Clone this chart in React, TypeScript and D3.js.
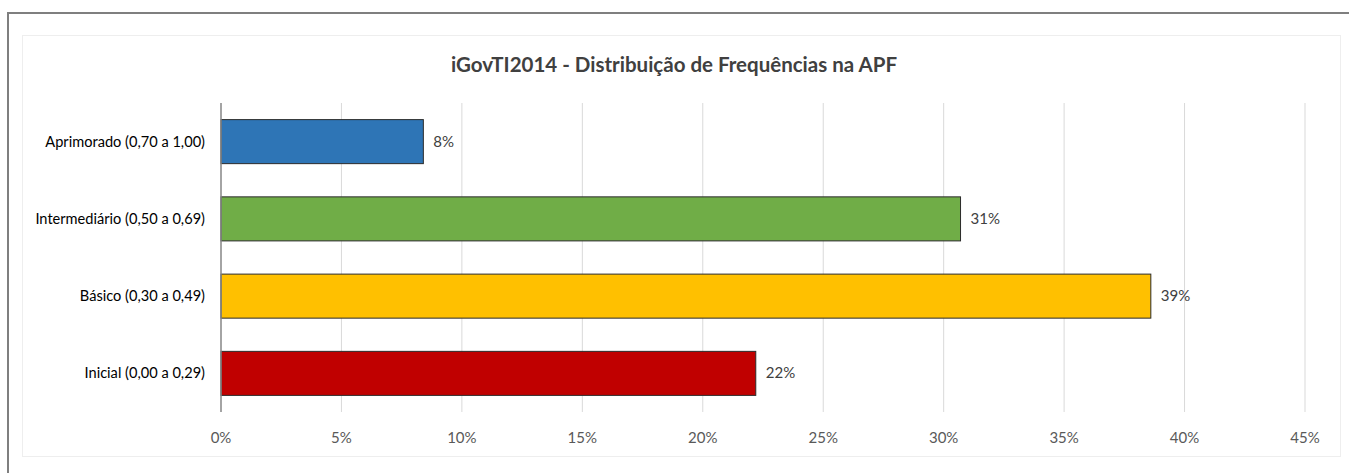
import React from "react";
import * as d3 from "d3";

const categories = [
  "Aprimorado (0,70 a 1,00)",
  "Intermediário (0,50 a 0,69)",
  "Básico (0,30 a 0,49)",
  "Inicial (0,00 a 0,29)",
];
const values = [8.4, 30.7, 38.6, 22.2];
const valueLabels = ["8%", "31%", "39%", "22%"];
const colors = ["#2E75B6", "#70AD47", "#FFC000", "#C00000"];
const ticks = [0, 5, 10, 15, 20, 25, 30, 35, 40, 45];

const W = 1349;
const H = 473;
const font = "Lato, 'Open Sans', sans-serif";

const App = () => {
  const x = d3.scaleLinear().domain([0, 45]).range([221, 1305]);
  const y = d3
    .scaleBand<string>()
    .domain(categories)
    .range([103, 412])
    .paddingInner(0.43)
    .paddingOuter(0.215);

  return (
    <svg
      width={W}
      height={H}
      style={{ position: "absolute", left: 0, top: 0, background: "#fff" }}
    >
      {/* outer frame */}
      <line x1={8} y1={13} x2={W} y2={13} stroke="#7f7f7f" strokeWidth={2} />
      <line x1={8} y1={12} x2={8} y2={H} stroke="#7f7f7f" strokeWidth={2} />
      {/* chart area */}
      <rect x={22.5} y={35.5} width={1318} height={421} fill="#fff" stroke="#eeeeee" />

      <text
        x={674}
        y={72}
        textAnchor="middle"
        fontFamily={font}
        fontWeight="bold"
        fontSize={20.5}
        fill="#404040"
      >
        iGovTI2014 - Distribuição de Frequências na APF
      </text>

      {ticks.slice(1).map((t) => (
        <line
          key={t}
          x1={x(t)}
          x2={x(t)}
          y1={103}
          y2={412}
          stroke="#d9d9d9"
          strokeWidth={1}
        />
      ))}
      {ticks.map((t) => (
        <text
          key={t}
          x={x(t)}
          y={443}
          textAnchor="middle"
          fontFamily={font}
          fontSize={15}
          fill="#595959"
        >
          {t}%
        </text>
      ))}

      {categories.map((c, i) => (
        <g key={c}>
          <rect
            x={x(0)}
            y={y(c)}
            width={x(values[i]) - x(0)}
            height={y.bandwidth()}
            fill={colors[i]}
            stroke="#2b2b2b"
            strokeWidth={1}
          />
          <text
            x={x(values[i]) + 10}
            y={(y(c) ?? 0) + y.bandwidth() / 2 + 5}
            fontFamily={font}
            fontSize={15}
            fill="#404040"
          >
            {valueLabels[i]}
          </text>
          <text
            x={205}
            y={(y(c) ?? 0) + y.bandwidth() / 2 + 5}
            textAnchor="end"
            fontFamily={font}
            fontSize={14.6}
            fill="#000"
          >
            {c}
          </text>
        </g>
      ))}

      <line x1={x(0)} x2={x(0)} y1={103} y2={412} stroke="#868686" strokeWidth={1.5} />
    </svg>
  );
};

export default App;
